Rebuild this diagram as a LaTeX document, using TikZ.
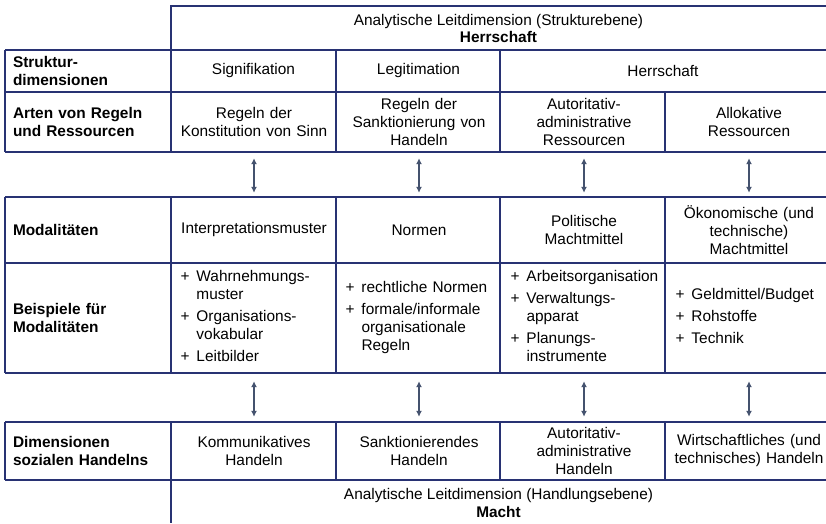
\documentclass[tikz,border=0pt]{standalone}
\usepackage{fontspec}
\setmainfont{Liberation Sans}
\usetikzlibrary{arrows.meta}
\definecolor{gridblue}{RGB}{40,50,115}
\definecolor{arrowgray}{RGB}{68,82,110}

\begin{document}
\begin{tikzpicture}[x=1pt,y=-1pt,node distance=165pt,font=\fontsize{15.4}{18}\selectfont]
\tikzstyle{grid}=[draw=gridblue,line width=1.6pt]
\tikzstyle{rowlabel}=[minimum width=166pt,text width=150pt,inner xsep=8pt,align=left,font=\fontsize{15.4}{18}\selectfont\bfseries]
\tikzstyle{cell}=[minimum width=164.5pt,text width=154pt,inner xsep=5pt,align=center]
\tikzstyle{itemcell}=[minimum width=164.5pt,text width=147pt,inner xsep=9pt,align=left]
\tikzstyle{link}=[draw=arrowgray,line width=1.6pt,{Latex[length=6pt,width=6pt]}-{Latex[length=6pt,width=6pt]}]
\useasboundingbox (0,0) rectangle (826,523);

\draw[grid] (171,152) -- (171,6) -- (826,6);
\foreach \y in {50,92,152} \draw[grid] (5,\y) -- (826,\y);
\draw[grid] (5,50) -- (5,152);
\foreach \x in {336,500} \draw[grid] (\x,50) -- (\x,152);
\draw[grid] (665,92) -- (665,152);
\foreach \y in {197,263,373} \draw[grid] (5,\y) -- (826,\y);
\foreach \x in {5,171,336,500,665} \draw[grid] (\x,197) -- (\x,373);
\foreach \y in {422,480} \draw[grid] (5,\y) -- (826,\y);
\foreach \x in {5,171,336,500,665} \draw[grid] (\x,422) -- (\x,480);
\draw[grid] (171,480) -- (171,523);

\node [align=center] (struktur) at (498.5,28) {Analytische Leitdimension (Strukturebene)\\[-1pt] \textbf{Herrschaft}};
\node [align=center] (handlung) at (498.5,503) {Analytische Leitdimension (Handlungsebene)\\ \textbf{Macht}};

\node [rowlabel,minimum height=42pt] (lstruk) at (88,71) {Struktur-\\dimensionen};
\node [rowlabel,minimum height=60pt] (larten) at (88,122) {Arten von Regeln\\und Ressourcen};
\node [rowlabel,minimum height=66pt] (lmodal) at (88,230) {Modalitäten};
\node [rowlabel,minimum height=110pt] (lbeisp) at (88,318) {Beispiele für\\Modalitäten};
\node [rowlabel,minimum height=58pt] (ldim) at (88,451) {Dimensionen\\sozialen Handelns};

\node [cell,minimum height=42pt] (sig) at (253.5,71) {Signifikation};
\node [cell,minimum height=42pt,right of=sig] (leg) {Legitimation};
\node [cell,minimum height=42pt,minimum width=326pt] (herr) at (663,71) {Herrschaft};

\node [cell,minimum height=60pt] (arten1) at (254,122) {Regeln der\\Konstitution von Sinn};
\node [cell,minimum height=60pt,right of=arten1] (arten2) {Regeln der\\Sanktionierung von\\Handeln};
\node [cell,minimum height=60pt,right of=arten2] (arten3) {Autoritativ-\\administrative\\Ressourcen};
\node [cell,minimum height=60pt,right of=arten3] (arten4) {Allokative\\Ressourcen};

\node [cell,minimum height=66pt] (modal1) at (254,230) {Interpretationsmuster};
\node [cell,minimum height=66pt,right of=modal1] (modal2) {Normen};
\node [cell,minimum height=66pt,right of=modal2] (modal3) {Politische\\Machtmittel};
\node [cell,minimum height=66pt,right of=modal3] (modal4) {Ökonomische (und\\technische)\\Machtmittel};

\node [itemcell,minimum height=110pt] (beisp1) at (254,318) {\begin{tabular}{@{}l@{\hspace{7pt}}l@{}}
+ & Wahrnehmungs-\\ & muster\\[4pt] + & Organisations-\\ & vokabular\\[4pt] + & Leitbilder\end{tabular}};
\node [itemcell,minimum height=110pt,right of=beisp1] (beisp2) {\begin{tabular}{@{}l@{\hspace{7pt}}l@{}}
+ & rechtliche Normen\\[4pt] + & formale/informale\\ & organisationale\\ & Regeln\end{tabular}};
\node [itemcell,minimum height=110pt,right of=beisp2] (beisp3) {\begin{tabular}{@{}l@{\hspace{7pt}}l@{}}
+ & Arbeitsorganisation\\[4pt] + & Verwaltungs-\\ & apparat\\[4pt] + & Planungs-\\ & instrumente\end{tabular}};
\node [itemcell,minimum height=110pt,right of=beisp3] (beisp4) {\begin{tabular}{@{}l@{\hspace{7pt}}l@{}}
+ & Geldmittel/Budget\\[4pt] + & Rohstoffe\\[4pt] + & Technik\end{tabular}};

\node [cell,minimum height=58pt] (dim1) at (254,451) {Kommunikatives\\Handeln};
\node [cell,minimum height=58pt,right of=dim1] (dim2) {Sanktionierendes\\Handeln};
\node [cell,minimum height=58pt,right of=dim2] (dim3) {Autoritativ-\\administrative\\Handeln};
\node [cell,minimum height=58pt,right of=dim3] (dim4) {Wirtschaftliches (und\\technisches) Handeln};

\foreach \i in {1,2,3,4} {
  \draw[link,shorten <=6pt,shorten >=4pt] (arten\i.south) -- (modal\i.north);
  \draw[link,shorten <=8pt,shorten >=5pt] (beisp\i.south) -- (dim\i.north);
}
\end{tikzpicture}
\end{document}
